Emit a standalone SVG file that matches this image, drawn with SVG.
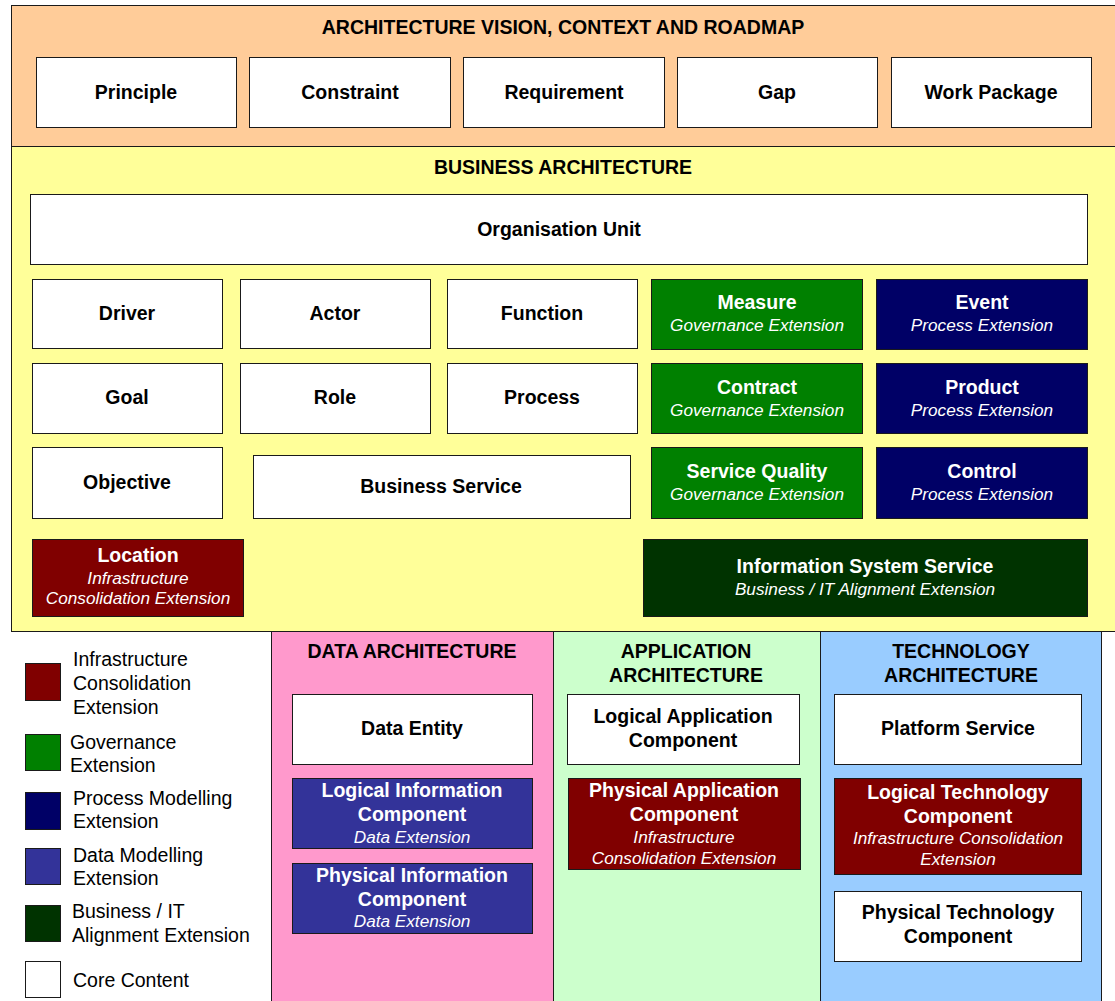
<svg xmlns="http://www.w3.org/2000/svg" width="1115" height="1001" viewBox="0 0 1115 1001">
<style>
text{font-family:"Liberation Sans",Arial,sans-serif;text-anchor:middle}
.t{font-size:19.5px;font-weight:bold;fill:#000}
.w{font-size:19.5px;font-weight:bold;fill:#fff}
.i{font-size:17.2px;font-style:italic;fill:#fff}
.lg{font-size:19.5px;fill:#000;text-anchor:start}
.box{stroke:#1a1a1a;stroke-width:1}
.core{fill:#fff}
.red{fill:#800000}
.grn{fill:#008000}
.nav{fill:#000066}
.dat{fill:#333399}
.dkg{fill:#003300}
.band{stroke:#1a1a1a;stroke-width:1}
</style>
<rect width="1115" height="1001" fill="#fff"/>
<!-- bands -->
<g id="band-vision">
<rect class="band" x="11.5" y="5.5" width="1110" height="141" fill="#FFCC99"/>
<text class="t" x="563" y="34">ARCHITECTURE VISION, CONTEXT AND ROADMAP</text>
</g>
<g id="band-business">
<rect class="band" x="11.5" y="146.5" width="1110" height="485" fill="#FFFF99"/>
<text class="t" x="563" y="174">BUSINESS ARCHITECTURE</text>
</g>
<g id="band-data">
<rect class="band" x="271.5" y="631.5" width="282" height="380" fill="#FF99CC"/>
<text class="t" x="412" y="658">DATA ARCHITECTURE</text>
</g>
<g id="band-application">
<rect class="band" x="553.5" y="631.5" width="267" height="380" fill="#CCFFCC"/>
<text class="t" x="686" y="658">APPLICATION</text>
<text class="t" x="686" y="682">ARCHITECTURE</text>
</g>
<g id="band-technology">
<rect class="band" x="820.5" y="631.5" width="281" height="380" fill="#99CCFF"/>
<text class="t" x="961" y="658">TECHNOLOGY</text>
<text class="t" x="961" y="682">ARCHITECTURE</text>
</g>
<!-- vision row -->
<g id="principle"><rect class="box core" x="36.5" y="57.5" width="200" height="70"/><text class="t" x="136" y="99">Principle</text></g>
<g id="constraint"><rect class="box core" x="249.5" y="57.5" width="201" height="70"/><text class="t" x="350" y="99">Constraint</text></g>
<g id="requirement"><rect class="box core" x="463.5" y="57.5" width="201" height="70"/><text class="t" x="564" y="99">Requirement</text></g>
<g id="gap"><rect class="box core" x="677.5" y="57.5" width="200" height="70"/><text class="t" x="777" y="99">Gap</text></g>
<g id="work-package"><rect class="box core" x="891.5" y="57.5" width="200" height="70"/><text class="t" x="991" y="99">Work Package</text></g>
<!-- business -->
<g id="organisation-unit"><rect class="box core" x="30.5" y="194.5" width="1057" height="70"/><text class="t" x="559" y="236">Organisation Unit</text></g>
<g id="driver"><rect class="box core" x="32.5" y="279.5" width="190" height="69"/><text class="t" x="127" y="320">Driver</text></g>
<g id="actor"><rect class="box core" x="240.5" y="279.5" width="190" height="69"/><text class="t" x="335" y="320">Actor</text></g>
<g id="function"><rect class="box core" x="447.5" y="279.5" width="190" height="69"/><text class="t" x="542" y="320">Function</text></g>
<g id="measure"><rect class="box grn" x="651.5" y="279.5" width="211" height="70"/><text class="w" x="757" y="309">Measure</text><text class="i" x="757" y="331">Governance Extension</text></g>
<g id="event"><rect class="box nav" x="876.5" y="279.5" width="211" height="70"/><text class="w" x="982" y="309">Event</text><text class="i" x="982" y="331">Process Extension</text></g>
<g id="goal"><rect class="box core" x="32.5" y="363.5" width="190" height="70"/><text class="t" x="127" y="404">Goal</text></g>
<g id="role"><rect class="box core" x="240.5" y="363.5" width="190" height="70"/><text class="t" x="335" y="404">Role</text></g>
<g id="process"><rect class="box core" x="447.5" y="363.5" width="190" height="70"/><text class="t" x="542" y="404">Process</text></g>
<g id="contract"><rect class="box grn" x="651.5" y="363.5" width="211" height="70"/><text class="w" x="757" y="394">Contract</text><text class="i" x="757" y="416">Governance Extension</text></g>
<g id="product"><rect class="box nav" x="876.5" y="363.5" width="211" height="70"/><text class="w" x="982" y="394">Product</text><text class="i" x="982" y="416">Process Extension</text></g>
<g id="objective"><rect class="box core" x="32.5" y="447.5" width="190" height="71"/><text class="t" x="127" y="489">Objective</text></g>
<g id="business-service"><rect class="box core" x="253.5" y="455.5" width="377" height="63"/><text class="t" x="441" y="493">Business Service</text></g>
<g id="service-quality"><rect class="box grn" x="651.5" y="447.5" width="211" height="71"/><text class="w" x="757" y="478">Service Quality</text><text class="i" x="757" y="500">Governance Extension</text></g>
<g id="control"><rect class="box nav" x="876.5" y="447.5" width="211" height="71"/><text class="w" x="982" y="478">Control</text><text class="i" x="982" y="500">Process Extension</text></g>
<g id="location"><rect class="box red" x="32.5" y="539.5" width="211" height="77"/><text class="w" x="138" y="562">Location</text><text class="i" x="138" y="584">Infrastructure</text><text class="i" x="138" y="604">Consolidation Extension</text></g>
<g id="information-system-service"><rect class="box dkg" x="643.5" y="539.5" width="444" height="77"/><text class="w" x="865" y="573">Information System Service</text><text class="i" x="865" y="595">Business / IT Alignment Extension</text></g>
<!-- data -->
<g id="data-entity"><rect class="box core" x="292.5" y="694.5" width="240" height="70"/><text class="t" x="412" y="735">Data Entity</text></g>
<g id="logical-information-component"><rect class="box dat" x="292.5" y="778.5" width="240" height="70"/><text class="w" x="412" y="797">Logical Information</text><text class="w" x="412" y="821">Component</text><text class="i" x="412" y="843">Data Extension</text></g>
<g id="physical-information-component"><rect class="box dat" x="292.5" y="863.5" width="240" height="70"/><text class="w" x="412" y="882">Physical Information</text><text class="w" x="412" y="906">Component</text><text class="i" x="412" y="927">Data Extension</text></g>
<!-- application -->
<g id="logical-application-component"><rect class="box core" x="567.5" y="694.5" width="232" height="70"/><text class="t" x="683" y="723">Logical Application</text><text class="t" x="683" y="747">Component</text></g>
<g id="physical-application-component"><rect class="box red" x="568.5" y="778.5" width="232" height="91"/><text class="w" x="684" y="797">Physical Application</text><text class="w" x="684" y="821">Component</text><text class="i" x="684" y="843">Infrastructure</text><text class="i" x="684" y="864">Consolidation Extension</text></g>
<!-- technology -->
<g id="platform-service"><rect class="box core" x="834.5" y="694.5" width="247" height="70"/><text class="t" x="958" y="735">Platform Service</text></g>
<g id="logical-technology-component"><rect class="box red" x="834.5" y="778.5" width="247" height="96"/><text class="w" x="958" y="799">Logical Technology</text><text class="w" x="958" y="823">Component</text><text class="i" x="958" y="844">Infrastructure Consolidation</text><text class="i" x="958" y="865">Extension</text></g>
<g id="physical-technology-component"><rect class="box core" x="834.5" y="891.5" width="247" height="70"/><text class="t" x="958" y="919">Physical Technology</text><text class="t" x="958" y="943">Component</text></g>
<!-- legend -->
<g id="legend">
<g id="legend-infrastructure"><rect class="box red" x="25.5" y="663.5" width="35" height="37"/><text class="lg" x="73" y="666">Infrastructure</text><text class="lg" x="73" y="690">Consolidation</text><text class="lg" x="73" y="714">Extension</text></g>
<g id="legend-governance"><rect class="box grn" x="25.5" y="734.5" width="35" height="36"/><text class="lg" x="70" y="749">Governance</text><text class="lg" x="70" y="772">Extension</text></g>
<g id="legend-process"><rect class="box nav" x="25.5" y="792.5" width="35" height="37"/><text class="lg" x="73" y="805">Process Modelling</text><text class="lg" x="73" y="828">Extension</text></g>
<g id="legend-data"><rect class="box dat" x="25.5" y="848.5" width="35" height="36"/><text class="lg" x="73" y="862">Data Modelling</text><text class="lg" x="73" y="885">Extension</text></g>
<g id="legend-alignment"><rect class="box dkg" x="25.5" y="905.5" width="35" height="36"/><text class="lg" x="72" y="918">Business / IT</text><text class="lg" x="72" y="942">Alignment Extension</text></g>
<g id="legend-core"><rect class="box core" x="25.5" y="961.5" width="35" height="36"/><text class="lg" x="73" y="987">Core Content</text></g>
</g>
</svg>
